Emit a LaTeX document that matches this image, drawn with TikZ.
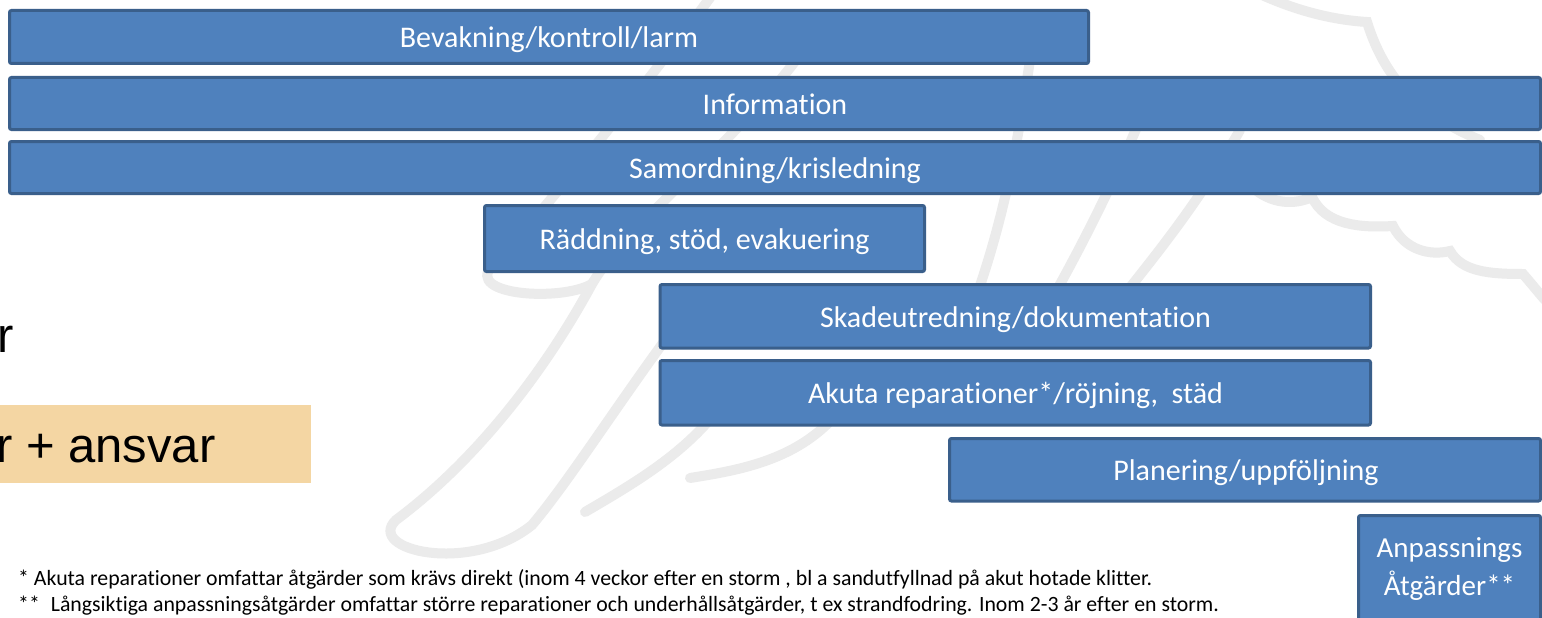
\documentclass[tikz,border=0pt]{standalone}
\usepackage{fontspec}
\setmainfont[Ligatures=NoCommon]{Carlito}
\newfontfamily\arialfont{Liberation Sans}
\newfontfamily\footfont[Ligatures=NoCommon]{Carlito}
\definecolor{boxblue}{HTML}{4F81BD}
\definecolor{boxedge}{HTML}{3A5F8B}
\definecolor{tan}{HTML}{F4D6A3}
\definecolor{wmgrey}{HTML}{EBEBEB}
\tikzset{
  bar/.style={fill=boxblue, draw=boxedge, line width=3pt, rounded corners=2pt},
  bartext/.style={text=white, inner sep=0pt, anchor=base, font=\fontsize{30}{36}\selectfont},
  wm/.style={draw=wmgrey, line width=10pt, line cap=round},
  foot/.style={inner sep=0pt, anchor=base west, font=\footfont\fontsize{21.8}{26}\selectfont},
  big/.style={inner sep=0pt, anchor=base west, font=\arialfont\fontsize{49}{58}\selectfont}
}
\begin{document}
\begin{tikzpicture}[x=1pt,y=-1pt]
\useasboundingbox (0,0) rectangle (1542,618);
\fill[white] (0,0) rectangle (1542,618);
% watermark (wing)
\draw[wm] (712,-5) .. controls (650,80) and (545,210) .. (492,266) .. controls (465,295) and (560,302) .. (592,284);
\draw[wm] (800,55) .. controls (720,160) and (630,220) .. (592,284) .. controls (540,380) and (470,465) .. (396,520) .. controls (365,550) and (470,575) .. (532,525) .. controls (570,480) and (620,400) .. (680,320);
\draw[wm] (585,512) .. controls (640,480) and (690,450) .. (725,400);
\draw[wm] (690,478) .. controls (740,470) and (800,460) .. (840,410);
\draw[wm] (1030,60) .. controls (1015,160) and (1000,240) .. (960,340);
\draw[wm] (1140,120) .. controls (1110,190) and (1080,250) .. (1040,320);
\draw[wm] (1240,130) .. controls (1200,200) and (1160,250) .. (1120,300);
\draw[wm] (1262,-5) .. controls (1300,12) and (1335,20) .. (1367,22) .. controls (1385,80) and (1420,115) .. (1480,140);
\draw[wm] (1250,185) .. controls (1270,205) and (1295,205) .. (1312,197) .. controls (1325,225) and (1360,228) .. (1393,226) .. controls (1405,250) and (1430,256) .. (1450,251) .. controls (1462,272) and (1490,274) .. (1523,274) .. controls (1530,282) and (1538,292) .. (1545,300);
% left texts
\fill[tan] (0,405) rectangle (311,483);
\node[big] (ansvar) at (-4,462) {r + ansvar};
\node[big] (rtop) at (-3,352) {r};
% bars
\draw[bar] (9.5,10.5) rectangle (1088.5,63.5);
\node[bartext] (bev) at (549,47.5) {Bevakning/kontroll/larm};
\draw[bar] (9.5,77.5) rectangle (1540.5,129.5);
\node[bartext] (info) at (775,114) {Information};
\draw[bar] (9.5,141.5) rectangle (1540.5,193.5);
\node[bartext] (samord) at (775,178) {Samordning/krisledning};
\draw[bar] (484.5,205.5) rectangle (924.5,271.5);
\node[bartext] (radd) at (704.5,249) {Räddning, stöd, evakuering};
\draw[bar] (660,284.5) rectangle (1370.5,348);
\node[bartext] (skade) at (1015.5,327) {Skadeutredning/dokumentation};
\draw[bar] (660,360.5) rectangle (1370.5,425);
\node[bartext] (akuta) at (1015.5,403) {Akuta reparationer*/röjning,~ städ};
\draw[bar] (949.5,438.5) rectangle (1540.5,501);
\node[bartext] (plan) at (1246,480) {Planering/uppföljning};
\draw[bar] (1358.5,515.5) rectangle (1540.5,640);
\node[text=white, inner sep=0pt, align=center, font=\fontsize{29}{38}\selectfont] (anp) at (1449.5,569) {Anpassnings\\Åtgärder**};
% footnotes
\node[foot] (fn1) at (18,585) {* Akuta reparationer omfattar åtgärder som krävs direkt (inom 4 veckor efter en storm , bl a sandutfyllnad på akut hotade klitter.};
\node[foot] (fn2) at (18,611) {**\hspace{11pt}Långsiktiga anpassningsåtgärder omfattar större reparationer och underhållsåtgärder, t ex strandfodring. Inom 2-3 år efter en storm.};
\end{tikzpicture}
\end{document}
